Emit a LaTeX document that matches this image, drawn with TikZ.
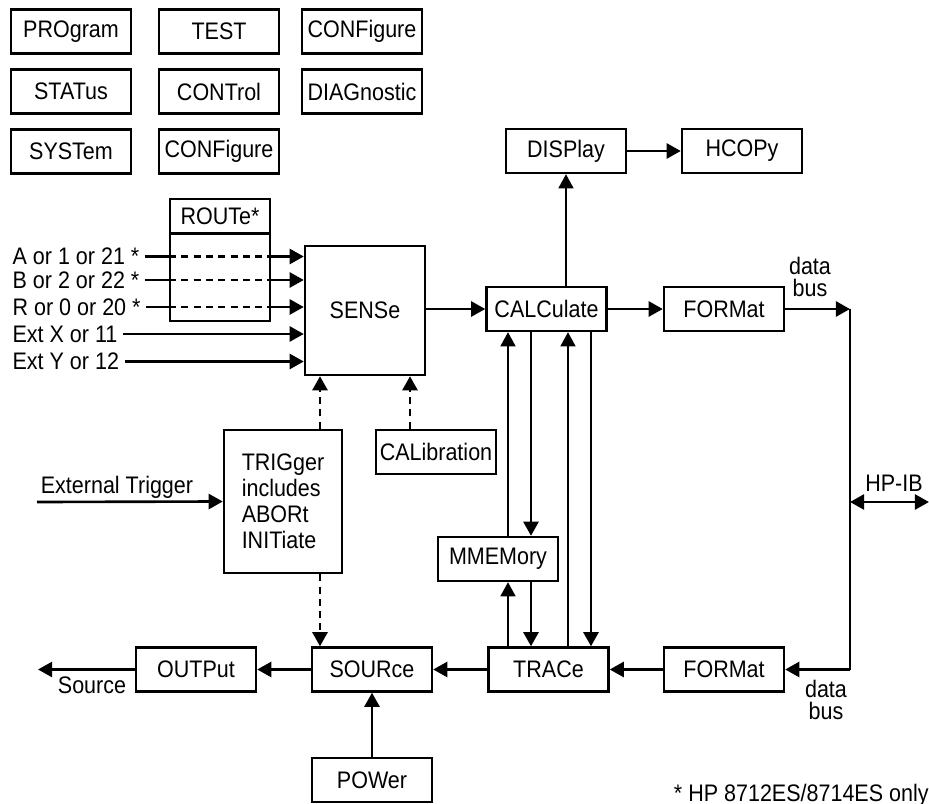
\documentclass[tikz,border=0pt]{standalone}
\usepackage{fontspec}
\setmainfont{Liberation Sans}[FakeStretch=0.9]
\usetikzlibrary{arrows.meta, positioning}

\begin{document}
\begin{tikzpicture}[
        block/.style={draw, line width=1.4pt, minimum width=2.4cm, minimum height=0.88cm, inner sep=2pt, font=\fontsize{13.6}{14.8}\selectfont},
        lbl/.style={inner sep=1pt, font=\fontsize{13.6}{14.8}\selectfont},
        buslbl/.style={inner sep=1pt, align=center, font=\fontsize{13.6}{12.5}\selectfont},
        wire/.style={line width=1.5pt},
        arrow/.style={-{Triangle[length=8pt, width=8.5pt]}, line width=1.5pt},
        thinarrow/.style={-{Triangle[length=8pt, width=8.5pt]}, line width=0.9pt},
        dblarrow/.style={{Triangle[length=8pt, width=8.5pt]}-{Triangle[length=8pt, width=8.5pt]}, line width=1.5pt},
        dashline/.style={wire, dash pattern=on 4pt off 3pt},
        dasharrow/.style={arrow, dash pattern=on 4pt off 3pt}
    ]
        \useasboundingbox (0,0) rectangle (18.58,-16.08);

        % Subsystems without data flow
        \node[block] (prog) at (1.42,-0.63) {PROgram};
        \node[block] (test) at (4.38,-0.63) {TEST};
        \node[block] (conf) at (7.24,-0.63) {CONFigure};
        \node[block] (stat) at (1.42,-1.83) {STATus};
        \node[block] (ctrl) at (4.38,-1.83) {CONTrol};
        \node[block] (diag) at (7.24,-1.83) {DIAGnostic};
        \node[block] (syst) at (1.42,-3.03) {SYSTem};
        \node[block] (conftwo) at (4.38,-3.03) {CONFigure};

        % Measurement path
        \node[block, minimum width=2.0cm, minimum height=0.68cm, line width=1.1pt] (route) at (4.4,-4.32) {ROUTe*};
        \node[draw, line width=1.1pt, minimum width=2.0cm, minimum height=1.74cm, below=-0.6pt of route] (routebox) {};
        \node[block, minimum height=2.58cm] (sense) at (7.3,-6.21) {SENSe};
        \node[block] (calc) at (10.93,-6.18) {CALCulate};
        \node[block] (fmtout) at (14.48,-6.18) {FORMat};
        \node[block] (disp) at (11.32,-3.02) {DISPlay};
        \node[block] (hcopy) at (14.84,-3.02) {HCOPy};

        % Trigger, calibration, memory
        \node[block, minimum width=2.36cm, minimum height=2.86cm, align=left] (trig) at (5.66,-10.03) {TRIGger\\includes\\ABORt\\INITiate};
        \node[block] (cal) at (8.72,-9.04) {CALibration};
        \node[block] (mmem) at (9.96,-11.18) {MMEMory};

        % Bottom row
        \node[block] (output) at (3.92,-13.39) {OUTPut};
        \node[block] (source) at (7.44,-13.39) {SOURce};
        \node[block] (trace) at (10.97,-13.39) {TRACe};
        \node[block] (fmtin) at (14.48,-13.39) {FORMat};
        \node[block] (power) at (7.44,-15.6) {POWer};

        % Free ends and line positions
        \coordinate (srcout) at (0.76,-13.39);
        \coordinate (exttrig) at (0.74,-10.04);
        \coordinate (bustop) at (17.0,-6.18);
        \coordinate (busbot) at (17.0,-13.39);
        \coordinate (busmid) at (17.0,-10.04);
        \coordinate (hpib) at (18.58,-10.04);
        \coordinate (upone) at (10.16,0);
        \coordinate (dnone) at (10.62,0);
        \coordinate (uptwo) at (11.36,0);
        \coordinate (dntwo) at (11.82,0);
        \coordinate (trigx) at (6.4,0);
        \coordinate (calx) at (8.2,0);

        % Inputs
        \foreach \y/\txt/\nm in {-5.13/{A or 1 or 21 *}/ina, -5.6/{B or 2 or 22 *}/inb, -6.14/{R or 0 or 20 *}/inr}{
            \node[lbl, anchor=west, inner sep=3pt] (\nm) at (0.14,\y) {\txt};
            \draw[wire] (\nm.east) -- (routebox.west |- \nm.east);
            \draw[dashline] (routebox.west |- \nm.east) -- (routebox.east |- \nm.east);
            \draw[arrow] (routebox.east |- \nm.east) -- (sense.west |- \nm.east);
        }
        \node[lbl, anchor=west, inner sep=3pt] (extx) at (0.14,-6.68) {Ext X or 11};
        \node[lbl, anchor=west, inner sep=3pt] (exty) at (0.14,-7.23) {Ext Y or 12};
        \draw[arrow] (extx.east) -- (sense.west |- extx.east);
        \draw[arrow] (exty.east) -- (sense.west |- exty.east);

        % Connections
        \draw[arrow] (sense.east |- calc.west) -- (calc.west);
        \draw[arrow] (calc.east) -- (fmtout.west);
        \draw[arrow] (fmtout.east) -- (bustop);
        \draw[thinarrow, -] (bustop) -- (busbot);
        \draw[arrow] (busbot) -- (fmtin.east);
        \draw[dblarrow] (busmid) -- (hpib);
        \draw[thinarrow] (calc.north -| disp) -- (disp.south);
        \draw[arrow] (disp.east) -- (hcopy.west);
        \draw[thinarrow] (upone |- mmem.north) -- (upone |- calc.south);
        \draw[arrow] (dnone |- calc.south) -- (dnone |- mmem.north);
        \draw[thinarrow] (upone |- trace.north) -- (upone |- mmem.south);
        \draw[arrow] (dnone |- mmem.south) -- (dnone |- trace.north);
        \draw[thinarrow] (uptwo |- trace.north) -- (uptwo |- calc.south);
        \draw[arrow] (dntwo |- calc.south) -- (dntwo |- trace.north);
        \draw[arrow] (fmtin.west) -- (trace.east);
        \draw[arrow] (trace.west) -- (source.east);
        \draw[arrow] (source.west) -- (output.east);
        \draw[arrow] (output.west) -- (srcout);
        \draw[arrow] (power.north) -- (source.south);
        \draw[arrow] (exttrig) -- (trig.west);
        \draw[dasharrow] (trigx |- trig.north) -- (trigx |- sense.south);
        \draw[dasharrow] (trigx |- trig.south) -- (trigx |- source.north);
        \draw[dasharrow] (calx |- cal.north) -- (calx |- sense.south);

        % Labels
        \node[lbl, anchor=south west, inner sep=2pt] (extlbl) at (exttrig) {External Trigger};
        \node[lbl, anchor=north] (srclbl) at (1.84,-13.5) {Source};
        \node[buslbl, anchor=south] (bustoplbl) at (16.2,-5.98) {data\\bus};
        \node[buslbl, anchor=north] (busbotlbl) at (16.52,-13.56) {data\\bus};
        \node[lbl, anchor=south] (hpiblbl) at (17.88,-9.88) {HP-IB};
        \node[lbl, anchor=base east, inner sep=0pt] (note) at (18.58,-16.02) {* HP 8712ES/8714ES only};
    \end{tikzpicture}
\end{document}
